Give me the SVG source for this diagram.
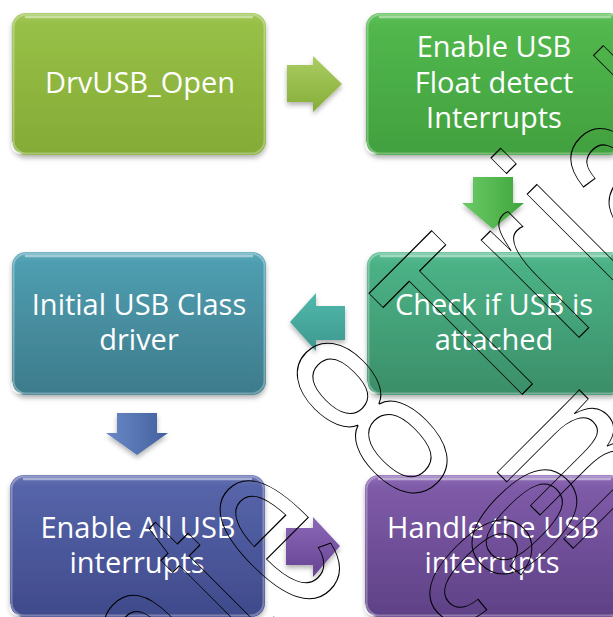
<svg xmlns="http://www.w3.org/2000/svg" width="613" height="617" viewBox="0 0 613 617">
<defs>
  <linearGradient id="g1" x1="0" y1="0" x2="0" y2="1"><stop offset="0" stop-color="#a3c759"/><stop offset="0.08" stop-color="#97c047"/><stop offset="1" stop-color="#84ab36"/></linearGradient>
  <linearGradient id="g2" x1="0" y1="0" x2="0" y2="1"><stop offset="0" stop-color="#62c25d"/><stop offset="0.08" stop-color="#52b84d"/><stop offset="1" stop-color="#41a03e"/></linearGradient>
  <linearGradient id="g3" x1="0" y1="0" x2="0" y2="1"><stop offset="0" stop-color="#5daabb"/><stop offset="0.08" stop-color="#4e9db0"/><stop offset="1" stop-color="#3d7b8b"/></linearGradient>
  <linearGradient id="g4" x1="0" y1="0" x2="0" y2="1"><stop offset="0" stop-color="#5cbe93"/><stop offset="0.08" stop-color="#4bb286"/><stop offset="1" stop-color="#3a8e68"/></linearGradient>
  <linearGradient id="g5" x1="0" y1="0" x2="0" y2="1"><stop offset="0" stop-color="#6673b5"/><stop offset="0.08" stop-color="#5664a9"/><stop offset="1" stop-color="#3f4a8b"/></linearGradient>
  <linearGradient id="g6" x1="0" y1="0" x2="0" y2="1"><stop offset="0" stop-color="#9270bb"/><stop offset="0.08" stop-color="#7f5ba8"/><stop offset="1" stop-color="#5e4186"/></linearGradient>
  <linearGradient id="a1" x1="0" y1="0" x2="0" y2="1"><stop offset="0" stop-color="#aacd62"/><stop offset="1" stop-color="#86ad38"/></linearGradient>
  <linearGradient id="a2" x1="0" y1="0" x2="1" y2="0"><stop offset="0" stop-color="#6ccb66"/><stop offset="1" stop-color="#3fa53c"/></linearGradient>
  <linearGradient id="a3" x1="0" y1="0" x2="0" y2="1"><stop offset="0" stop-color="#52b9ac"/><stop offset="1" stop-color="#3d9890"/></linearGradient>
  <linearGradient id="a4" x1="0" y1="0" x2="1" y2="0"><stop offset="0" stop-color="#6a89c6"/><stop offset="1" stop-color="#42609d"/></linearGradient>
  <linearGradient id="a5" x1="0" y1="0" x2="0" y2="1"><stop offset="0" stop-color="#8c68b8"/><stop offset="1" stop-color="#664492"/></linearGradient>
  <filter id="sh" x="-10%" y="-10%" width="120%" height="125%"><feDropShadow dx="0" dy="3" stdDeviation="2.5" flood-color="#000" flood-opacity="0.3"/></filter>
</defs>
<style>
  .lbl{font-family:"Open Sans","Noto Sans",sans-serif;font-size:29px;fill:#ffffff;text-anchor:middle}
  .hl{fill:none;stroke:#ffffff;stroke-opacity:0.3;stroke-width:2}
  .top{fill:none;stroke:#ffffff;stroke-opacity:0.45;stroke-width:2.5;stroke-linecap:round}
  .glint{fill:#ffffff;fill-opacity:0.7}
  .wm{font-family:"Liberation Sans",Arial,sans-serif;fill:none;stroke:#000000;stroke-width:1}
</style>

<g id="n1">
  <rect x="12" y="13" width="254" height="142" rx="14" fill="url(#g1)" filter="url(#sh)"/>
  <rect x="13.5" y="14.5" width="251" height="139" rx="13" class="hl"/>
  <path class="top" d="M26 17 H252"/>
  <path class="glint" d="M13 141 A10 10 0 0 0 23 153 A8 8 0 0 1 13 141 Z"/>
  <text class="lbl" x="140" y="93">DrvUSB_Open</text>
</g>

<g id="n2">
  <rect x="366" y="13" width="256" height="142" rx="14" fill="url(#g2)" filter="url(#sh)"/>
  <rect x="367.5" y="14.5" width="253" height="139" rx="13" class="hl"/>
  <path class="top" d="M380 17 H610"/>
  <path class="glint" d="M367 141 A10 10 0 0 0 377 153 A8 8 0 0 1 367 141 Z"/>
  <text class="lbl" x="494" y="57">Enable USB</text>
  <text class="lbl" x="494" y="93">Float detect</text>
  <text class="lbl" x="494" y="128">Interrupts</text>
</g>

<g id="n3">
  <rect x="12" y="252" width="254" height="143" rx="14" fill="url(#g3)" filter="url(#sh)"/>
  <rect x="13.5" y="253.5" width="251" height="140" rx="13" class="hl"/>
  <path class="top" d="M26 256 H252"/>
  <path class="glint" d="M13 381 A10 10 0 0 0 23 393 A8 8 0 0 1 13 381 Z"/>
  <text class="lbl" x="139" y="315">Initial USB Class</text>
  <text class="lbl" x="139" y="350">driver</text>
</g>

<g id="n4">
  <rect x="367" y="252" width="256" height="143" rx="14" fill="url(#g4)" filter="url(#sh)"/>
  <rect x="368.5" y="253.5" width="253" height="140" rx="13" class="hl"/>
  <path class="top" d="M381 256 H610"/>
  <path class="glint" d="M368 381 A10 10 0 0 0 378 393 A8 8 0 0 1 368 381 Z"/>
  <text class="lbl" x="494" y="315">Check if USB is</text>
  <text class="lbl" x="494" y="350">attached</text>
</g>

<g id="n5">
  <rect x="10" y="475" width="255" height="142" rx="14" fill="url(#g5)" filter="url(#sh)"/>
  <rect x="11.5" y="476.5" width="252" height="139" rx="13" class="hl"/>
  <path class="top" d="M24 479 H251"/>
  <path class="glint" d="M11 603 A10 10 0 0 0 21 615 A8 8 0 0 1 11 603 Z"/>
  <text class="lbl" x="138" y="538">Enable All USB</text>
  <text class="lbl" x="137" y="573">interrupts</text>
</g>

<g id="n6">
  <rect x="365" y="475" width="258" height="142" rx="14" fill="url(#g6)" filter="url(#sh)"/>
  <rect x="366.5" y="476.5" width="255" height="139" rx="13" class="hl"/>
  <path class="top" d="M379 479 H610"/>
  <path class="glint" d="M366 603 A10 10 0 0 0 376 615 A8 8 0 0 1 366 603 Z"/>
  <text class="lbl" x="493" y="538">Handle the USB</text>
  <text class="lbl" x="492" y="573">interrupts</text>
</g>

<g id="connectors" filter="url(#sh)">
  <path fill="url(#a1)" d="M287 65 H313 V56 L342 84 L313 112 V102 H287 Z"/>
  <path fill="url(#a2)" d="M473 177 H513 V203 H524 L493 229 L462 203 H473 Z"/>
  <path fill="url(#a3)" d="M345 306 H316 V293 L290 322 L316 351 V340 H345 Z"/>
  <path fill="url(#a4)" d="M117 413 H157 V433 H168 L137 455 L106 433 H117 Z"/>
  <path fill="url(#a5)" d="M286 528 H313 V517 L340 546 L313 577 V565 H286 Z"/>
</g>

<g id="watermark">
  <text class="wm" transform="rotate(-45) scale(0.6,1)" font-size="261" y="648" x="-650 -475 -380 -126.7 83.3 266.7 375 450 616.7" vector-effect="non-scaling-stroke">ate8Trial</text>
  <text class="wm" transform="translate(438,610) rotate(45) scale(0.7,1)" font-size="220" text-anchor="middle" vector-effect="non-scaling-stroke">c</text>
  <text class="wm" transform="translate(483,563) rotate(45) scale(0.7,1)" font-size="220" text-anchor="middle" vector-effect="non-scaling-stroke">o</text>
  <text class="wm" transform="translate(535,510) rotate(45) scale(0.7,1)" font-size="220" text-anchor="middle" vector-effect="non-scaling-stroke">m</text>
</g>
</svg>
